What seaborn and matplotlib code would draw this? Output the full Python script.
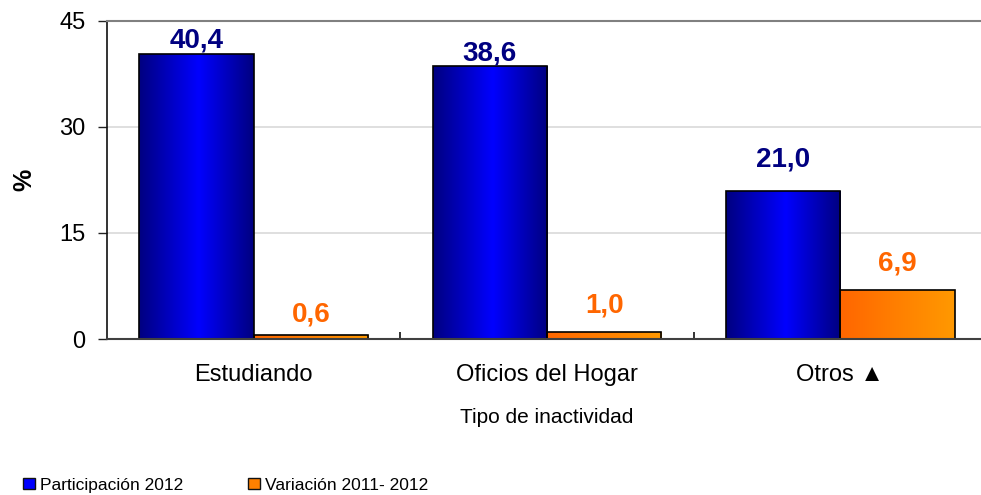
import numpy as np
import pandas as pd
import matplotlib
matplotlib.use("Agg")
import matplotlib.pyplot as plt
from matplotlib.patches import Patch
from matplotlib.colors import LinearSegmentedColormap
import seaborn as sns

# Data
categories = ["Estudiando", "Oficios del Hogar", "Otros \u25B2"]
participacion_2012 = [40.4, 38.6, 21.0]
variacion_2011_2012 = [0.6, 1.0, 6.9]
series_names = ["Participación 2012", "Variación 2011- 2012"]
y_ticks = [0, 15, 30, 45]

df = pd.DataFrame({
    "categoria": categories * 2,
    "serie": [series_names[0]] * 3 + [series_names[1]] * 3,
    "valor": participacion_2012 + variacion_2011_2012,
})

sns.set_theme(style="white")
plt.rcParams["font.family"] = ["Liberation Sans", "DejaVu Sans"]
plt.rcParams["text.color"] = "black"
plt.rcParams["axes.labelcolor"] = "black"
plt.rcParams["xtick.color"] = "black"
plt.rcParams["ytick.color"] = "black"

fig = plt.figure(figsize=(9.81, 4.95), dpi=100)
ax = fig.add_axes([107 / 981, 1 - 339 / 495, 880 / 981, 318 / 495])

sns.barplot(data=df, x="categoria", y="valor", hue="serie", order=categories,
            hue_order=series_names, width=0.78, dodge=True, ax=ax,
            palette=["#0000FF", "#FF8000"], legend=False, errorbar=None,
            saturation=1)

blue_cmap = LinearSegmentedColormap.from_list(
    "azul", [(0, "#000080"), (0.52, "#0000FF"), (1, "#000080")])
orange_cmap = LinearSegmentedColormap.from_list(
    "naranja", ["#FF6600", "#FF9900"])
grad = np.linspace(0, 1, 256).reshape(1, -1)

label_colors = ["#000080", "#FF6600"]
label_offsets = [[0, 0, 13], [5, 10, 10]]

n = len(categories)
for i, patch in enumerate(ax.patches[:2 * n]):
    s = i // n
    c = i % n
    x0, y0 = patch.get_x(), patch.get_y()
    w, h = patch.get_width(), patch.get_height()
    im = ax.imshow(grad, cmap=blue_cmap if s == 0 else orange_cmap,
                   extent=[x0, x0 + w, y0, y0 + h], aspect="auto",
                   zorder=patch.get_zorder(), interpolation="bicubic")
    im.set_clip_path(patch)
    patch.set_facecolor("none")
    patch.set_edgecolor("black")
    patch.set_linewidth(1.2)
    patch.set_zorder(patch.get_zorder() + 0.1)
    val = participacion_2012[c] if s == 0 else variacion_2011_2012[c]
    ax.annotate(f"{val:.1f}".replace(".", ","), (x0 + w / 2, y0 + h),
                xytext=(0, label_offsets[s][c]), textcoords="offset points",
                ha="center", va="bottom", fontsize=20, fontweight="bold",
                color=label_colors[s])

ax.set_xlim(-0.5, n - 0.5)
ax.set_ylim(0, 45)
ax.set_yticks(y_ticks)
ax.set_yticklabels([str(t) for t in y_ticks])
ax.yaxis.grid(True, color="#d9d9d9", linewidth=1.2)
ax.set_axisbelow(True)

ax.set_xticks(range(n))
ax.set_xticklabels(categories, fontsize=17)
ax.set_xticks([0.5, 1.5], minor=True)
ax.tick_params(axis="x", which="major", length=0, pad=18)
ax.tick_params(axis="x", which="minor", direction="in", length=5,
               color="#111111", width=1.2, bottom=True)
ax.tick_params(axis="y", which="major", direction="out", length=6.5,
               labelsize=17, width=1, color="#222222", pad=9, left=True)

for side in ("left", "bottom", "top"):
    ax.spines[side].set_visible(True)
ax.spines["left"].set_color("#111111")
ax.spines["left"].set_linewidth(1.2)
ax.spines["bottom"].set_color("#404040")
ax.spines["bottom"].set_linewidth(1.5)
ax.spines["top"].set_color("#808080")
ax.spines["top"].set_linewidth(1.5)
ax.spines["right"].set_visible(False)

ax.set_xlabel("Tipo de inactividad", fontsize=15, labelpad=16)
ax.set_ylabel("%", fontsize=18, fontweight="bold")
ax.yaxis.set_label_coords(-0.08, 0.5)

handles = [Patch(facecolor="#0000FF", edgecolor="#111111", linewidth=1),
           Patch(facecolor="#FF8000", edgecolor="#111111", linewidth=1)]
fig.legend(handles, series_names, loc="lower left",
           bbox_to_anchor=(0.008, -0.027), ncol=2, frameon=False, fontsize=12.5,
           handlelength=0.65, handleheight=0.65, handletextpad=0.3,
           columnspacing=3.75)

fig.savefig("out.png", dpi=100)
